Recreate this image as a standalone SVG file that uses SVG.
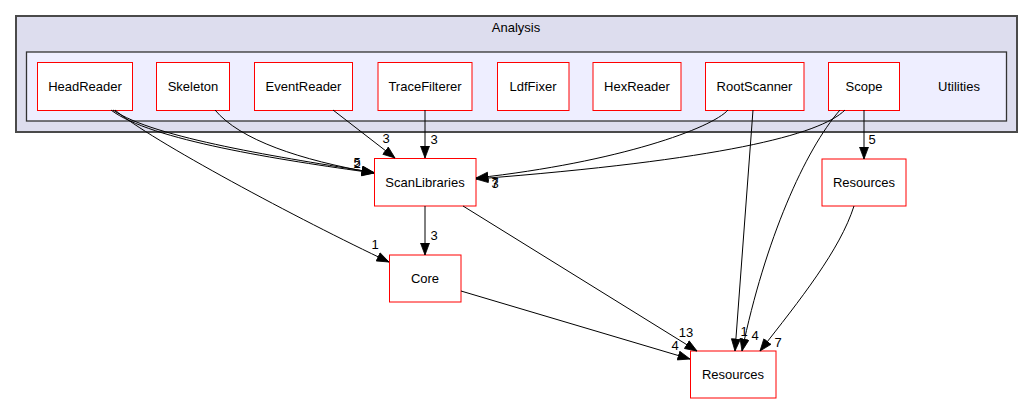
<svg xmlns="http://www.w3.org/2000/svg" width="1033" height="404" viewBox="0 0 1033 404">
<style>
text{font-family:"Liberation Sans",Arial,sans-serif;font-size:13px;fill:#000}
.n text,.lbl{text-anchor:middle}
.n rect{fill:#fff;stroke:#ff0000;stroke-width:1}
.e path{fill:none;stroke:#000;stroke-width:1;marker-end:url(#ah)}
</style>
<defs>
<marker id="ah" markerUnits="userSpaceOnUse" markerWidth="14" markerHeight="11" refX="12.5" refY="5" orient="auto">
<path d="M0.5,0.5 L12.5,5 L0.5,9.5 z" fill="#000" stroke="#000" stroke-width="0.8"/>
</marker>
</defs>
<rect width="1033" height="404" fill="#fff"/>
<g id="cluster-analysis">
<rect x="16" y="16" width="1001" height="116" fill="#ddddee" stroke="#4a4a4a" stroke-width="2"/>
<text x="516" y="32" text-anchor="middle">Analysis</text>
</g>
<g id="cluster-utilities">
<rect x="26.5" y="52" width="980" height="69" fill="#eeeeff" stroke="#333" stroke-width="1.3"/>
<text x="959" y="90.5" text-anchor="middle">Utilities</text>
</g>
<g id="HeadReader" class="n"><rect x="37.5" y="62.5" width="95" height="48"/><text x="85" y="91">HeadReader</text></g>
<g id="Skeleton" class="n"><rect x="156.5" y="62.5" width="73" height="48"/><text x="193" y="91">Skeleton</text></g>
<g id="EventReader" class="n"><rect x="254.5" y="62.5" width="98" height="48"/><text x="303.5" y="91">EventReader</text></g>
<g id="TraceFilterer" class="n"><rect x="378" y="62.5" width="94" height="48"/><text x="425" y="91">TraceFilterer</text></g>
<g id="LdfFixer" class="n"><rect x="497.5" y="62.5" width="71.5" height="48"/><text x="533" y="91">LdfFixer</text></g>
<g id="HexReader" class="n"><rect x="593" y="62.5" width="88" height="48"/><text x="637" y="91">HexReader</text></g>
<g id="RootScanner" class="n"><rect x="705.5" y="62.5" width="98.5" height="48"/><text x="754.5" y="91">RootScanner</text></g>
<g id="Scope" class="n"><rect x="828.5" y="62.5" width="71" height="48"/><text x="864" y="91">Scope</text></g>
<g id="ScanLibraries" class="n"><rect x="374.5" y="158.5" width="101.5" height="47.5"/><text x="425" y="187">ScanLibraries</text></g>
<g id="Core" class="n"><rect x="389.5" y="255" width="71.5" height="47"/><text x="425" y="283">Core</text></g>
<g id="ResourcesA" class="n"><rect x="822" y="159" width="84" height="47"/><text x="864" y="187">Resources</text></g>
<g id="ResourcesB" class="n"><rect x="690.5" y="351" width="85.5" height="47"/><text x="733" y="379">Resources</text></g>
<g id="edges" class="e">
<path d="M111,110 C150,140 280,160 374,173"/>
<path d="M113,110 C153,138 284,158 374,172.5"/>
<path d="M215,110 C240,140 300,160 374,173"/>
<path d="M115,110 C150,140 300,220 389,262"/>
<path d="M333,110 L395,158"/>
<path d="M425,110 L425,158"/>
<path d="M728,110 C712,128 620,162 476,178"/>
<path d="M845,110 C820,135 720,160 476,179"/>
<path d="M753,110 L735,351"/>
<path d="M840,110 C805,150 765,240 742,351"/>
<path d="M864,110 L864,159"/>
<path d="M854,206 C840,250 800,300 760,351"/>
<path d="M425,206 L425,255"/>
<path d="M463,206 L697,351"/>
<path d="M461,291 L690,359"/>
</g>
<g id="labels">
<text class="lbl" x="357" y="167">5</text>
<text class="lbl" x="357" y="168">2</text>
<text class="lbl" x="386" y="143">3</text>
<text class="lbl" x="434" y="144">3</text>
<text class="lbl" x="375" y="249">1</text>
<text class="lbl" x="434" y="240">3</text>
<text class="lbl" x="495" y="187">7</text>
<text class="lbl" x="495" y="188">3</text>
<text class="lbl" x="872" y="144">5</text>
<text class="lbl" x="686" y="337">13</text>
<text class="lbl" x="675" y="350">4</text>
<text class="lbl" x="744" y="336">1</text>
<text class="lbl" x="755" y="340">4</text>
<text class="lbl" x="778" y="347">7</text>
</g>
</svg>
